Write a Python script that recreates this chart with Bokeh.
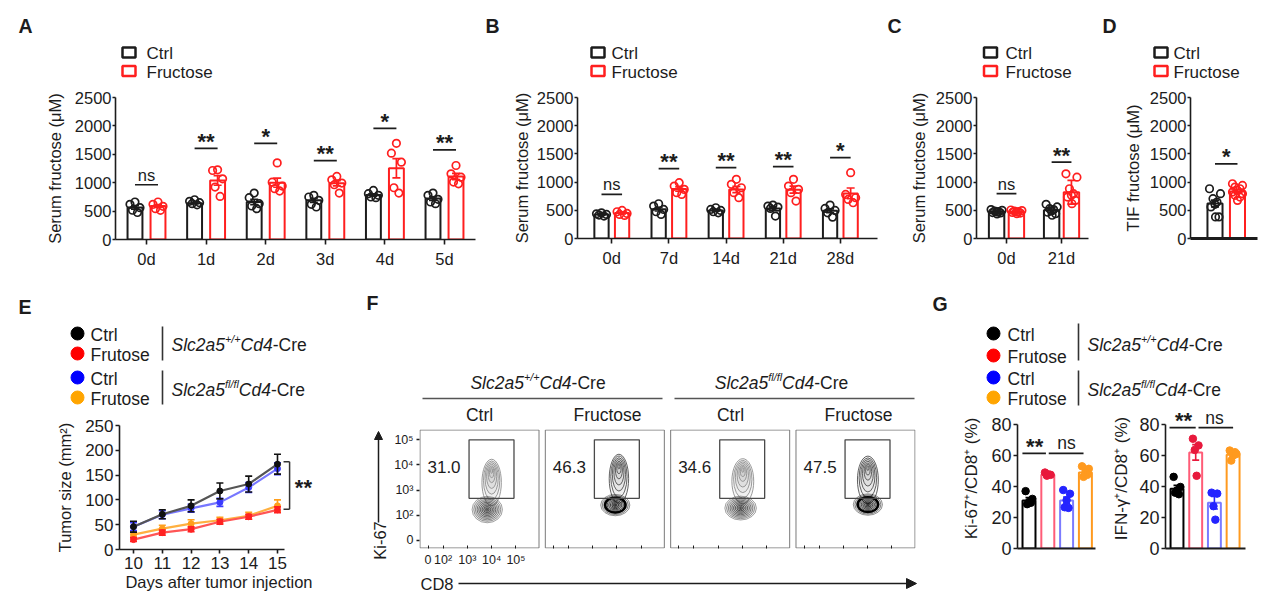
import numpy as np
from bokeh.plotting import figure
from bokeh.models import Range1d, Arrow, NormalHead
from bokeh.layouts import row, column
from bokeh.core.properties import value
from bokeh.embed import file_html
from bokeh.resources import INLINE

FONT = "Liberation Sans"
INK = "#1c1c1c"
RED = "#ff1f1f"

# ======================= DATA =======================
# ---- Panel A (serum fructose, days 0-5) ----
A_DAYS = ["0d", "1d", "2d", "3d", "4d", "5d"]
A_CTRL_PTS = [[660, 620, 560, 515, 475], [700, 672, 648, 631, 610], [818, 736, 631, 590, 543],
              [777, 748, 689, 619, 572], [864, 806, 777, 748, 736], [818, 777, 707, 660, 631]]
A_FRU_PTS = [[660, 619, 584, 543, 514], [1227, 1215, 1069, 923, 759], [1349, 1010, 940, 894, 853],
             [1110, 1051, 993, 964, 818], [1694, 1519, 1361, 911, 818], [1303, 1157, 1098, 1011, 981]]
A_CTRL_MEAN = [565, 640, 660, 690, 785, 720]
A_CTRL_SEM = [30, 15, 45, 35, 20, 30]
A_FRU_MEAN = [590, 1040, 1000, 990, 1255, 1110]
A_FRU_SEM = [25, 85, 80, 45, 170, 55]
A_SIG_Y = [964, 1606, 1694, 1390, 1957, 1577]
A_SIG = ["ns", "**", "*", "**", "*", "**"]

# ---- Panel B (serum fructose, days 0-28) ----
B_DAYS = ["0d", "7d", "14d", "21d", "28d"]
B_CTRL_PTS = [[456, 438, 427, 415, 397], [616, 575, 515, 474, 427], [545, 515, 498, 474, 456],
              [592, 575, 557, 533, 397], [592, 533, 498, 456, 379]]
B_FRU_PTS = [[498, 474, 444, 427, 409], [989, 930, 871, 812, 782], [1049, 960, 900, 812, 723],
             [1049, 930, 871, 812, 664], [1167, 782, 723, 693, 634]]
B_CTRL_MEAN = [427, 520, 498, 530, 492]
B_CTRL_SEM = [12, 32, 15, 35, 35]
B_FRU_MEAN = [450, 877, 869, 865, 800]
B_FRU_SEM = [15, 38, 56, 62, 95]
B_SIG_Y = [782, 1238, 1256, 1274, 1434]
B_SIG = ["ns", "**", "**", "**", "*"]

# ---- Panel C ----
C_DAYS = ["0d", "21d"]
C_CTRL_PTS = [[512, 500, 488, 476, 471, 459, 453, 435], [606, 559, 529, 512, 488, 465, 441, 412]]
C_FRU_PTS = [[505, 495, 488, 476, 470, 462, 450, 440], [1147, 1088, 882, 794, 765, 735, 676, 618]]
C_CTRL_MEAN = [475, 500]
C_CTRL_ERR = [25, 45]
C_FRU_MEAN = [470, 820]
C_FRU_ERR = [22, 210]
C_SIG_Y = [794, 1353]
C_SIG = ["ns", "**"]

# ---- Panel D (TIF fructose) ----
D_CAT = [""]
D_CTRL_PTS = [[882, 794, 706, 647, 606, 559, 382, 382]]
D_FRU_PTS = [[971, 941, 912, 882, 853, 824, 794, 765, 735, 676]]
D_CTRL_MEAN = [620]
D_CTRL_SEM = [60]
D_FRU_MEAN = [835]
D_FRU_SEM = [30]
D_SIG_Y = [1324]
D_SIG = ["*"]

# ---- Panel E (tumor growth) ----
E_DAYS = [10, 11, 12, 13, 14, 15]
E_WT_CTRL = [46, 71, 88, 118, 132, 172]
E_WT_CTRL_SEM = [11, 9, 12, 16, 16, 20]
E_WT_FRU = [20, 34, 41, 56, 66, 80]
E_WT_FRU_SEM = [4, 5, 5, 5, 5, 6]
E_KO_CTRL = [46, 70, 83, 95, 125, 163]
E_KO_CTRL_SEM = [8, 8, 8, 8, 10, 12]
E_KO_FRU = [30, 42, 52, 59, 68, 88]
E_KO_FRU_SEM = [5, 7, 8, 6, 7, 12]
E_SIG_Y = [177, 81]
E_SIG = "**"

# ---- Panel F (flow plots) ----
F_GROUPS = ["Ctrl", "Fructose", "Ctrl", "Fructose"]
F_PCT = ["31.0", "46.3", "34.6", "47.5"]
F_AX_LABELS = ["0", "10\u00b2", "10\u00b3", "10\u2074", "10\u2075"]
# contour blobs: (CD8 centre, Ki-67 centre, width, height) in decades
F_LOWER = [(3.82, 2.22, 1.25, 1.05), (3.93, 2.40, 1.20, 0.85), (3.93, 2.28, 1.30, 0.95), (4.01, 2.42, 1.20, 0.85)]
F_UPPER = [(4.00, 3.30, 0.80, 1.85), (4.08, 3.45, 0.80, 1.95), (4.02, 3.35, 0.90, 1.80), (4.01, 3.40, 0.86, 1.90)]
F_GATE = (3.07, 4.92, 2.67, 5.00)

# ---- Panel G ----
G_GROUPS = ["WT Ctrl", "WT Fructose", "KO Ctrl", "KO Fructose"]
G1_MEAN = [31, 47.5, 31, 49]
G1_SEM = [1.8, 0.6, 2.2, 1.4]
G1_PTS = [[37, 32, 30, 28.6, 29.5], [49, 47.5, 47, 47.8], [37.7, 35.3, 31.2, 26.6, 26.2], [53, 51.4, 49, 46.2, 47.5]]
G2_MEAN = [38.5, 62, 29.5, 60.5]
G2_SEM = [2.2, 5, 4, 1.8]
G2_PTS = [[46.2, 39.7, 37.5, 36, 35], [70.8, 66.5, 63.6, 46.9], [36, 35.4, 27.3, 18.6], [63.2, 61, 60, 56.7, 62.1]]
G1_SIG_Y = [61.3, 61.3]
G2_SIG_Y = [78, 78]
G_SIG = ["**", "ns"]

# ======================= STYLE HELPERS =======================
AW = {'S': 667, 'l': 222, 'c': 500, '2': 556, 'a': 556, '5': 556, '+': 584, '/': 278, 'f': 278,
      'C': 722, 'd': 556, '4': 556, '-': 333, 'r': 333, 'e': 556}


def tw(s, size):
    return sum(AW.get(ch, 556) for ch in s) * size / 1000.0


def new_fig(**kw):
    return figure(output_backend="svg", toolbar_location=None, outline_line_color=None,
                  frame_align=False, **kw)


def style_axis(ax, tick_size, label_size, tick_out=4, standoff=2, label_standoff=4, lw=1.6):
    ax.axis_line_color = INK
    ax.axis_line_width = lw
    ax.major_tick_line_color = INK
    ax.major_tick_line_width = lw
    ax.major_tick_in = 0
    ax.major_tick_out = tick_out
    ax.minor_tick_line_color = None
    ax.major_label_text_font = FONT
    ax.major_label_text_font_size = f"{tick_size}px"
    ax.major_label_text_color = INK
    ax.major_label_standoff = standoff
    ax.axis_label_text_font = FONT
    ax.axis_label_text_font_size = f"{label_size}px"
    ax.axis_label_text_font_style = "normal"
    ax.axis_label_text_color = INK
    ax.axis_label_standoff = label_standoff


def deco(w, h):
    return new_fig(width=w, height=h, x_range=Range1d(0, w), y_range=Range1d(h, 0),
                   x_axis_type=None, y_axis_type=None, min_border=0)


def dtext(p, org, x, y, s, size, style="normal", align="left", baseline="middle", angle=0.0, color=INK):
    p.text(x=[x - org[0]], y=[y - org[1]], text=[s], text_font=value(FONT),
           text_font_size=f"{size}px", text_font_style=style, text_align=align,
           text_baseline=baseline, text_color=color, angle=angle)


def dline(p, org, x0, y0, x1, y1, width=1.5, color=INK):
    p.segment(x0=[x0 - org[0]], y0=[y0 - org[1]], x1=[x1 - org[0]], y1=[y1 - org[1]],
              line_color=color, line_width=width)


def darrow(p, org, x0, y0, x1, y1, head=10):
    p.add_layout(Arrow(end=NormalHead(size=head, fill_color=INK, line_color=INK, line_width=1),
                       x_start=x0 - org[0], y_start=y0 - org[1], x_end=x1 - org[0], y_end=y1 - org[1],
                       line_color=INK, line_width=1.5))


def genotype(p, org, x, yc, sup, size=17.5, align="left"):
    sup_size = round(size * 0.62, 1)
    pieces = [("Slc2a5", "italic", size, 0.0), (sup, "italic", sup_size, -0.3 * size),
              ("Cd4", "italic", size, 0.0), ("-Cre", "normal", size, 0.0)]
    total = sum(tw(s, sz) for s, _, sz, _ in pieces)
    cur = x - total / 2 if align == "center" else x
    for s, st, sz, dy in pieces:
        dtext(p, org, cur, yc + dy, s, sz, style=st, baseline="middle")
        cur += tw(s, sz)


def sig_text(p, xs, ys, labels, ns_size=16.5, star_size=22):
    ns_i = [i for i, s in enumerate(labels) if s == "ns"]
    st_i = [i for i, s in enumerate(labels) if s != "ns"]
    if ns_i:
        p.text(x=[xs[i] for i in ns_i], y=[ys[i] for i in ns_i], text=["ns"] * len(ns_i), text_font=value(FONT),
               text_font_size=f"{ns_size}px", text_align="center", text_baseline="middle", y_offset=-10,
               text_color=INK)
    if st_i:
        p.text(x=[xs[i] for i in st_i], y=[ys[i] for i in st_i], text=[labels[i] for i in st_i],
               text_font=value(FONT), text_font_size=f"{star_size}px", text_font_style="bold",
               text_align="center", text_baseline="middle", y_offset=-7, text_color=INK)


JIT = {4: [-4, 4, -1.5, 1.5], 5: [0, -5, 5, -2.5, 2.5], 8: [-5.5, 5.5, -2, 2, 0, -4, 4, 0.5],
       10: [-5, 5, -2.5, 2.5, 0, -5, 5, -2.5, 2.5, 0]}


# ======================= BAR PANELS (A-D) =======================
def bar_panel(w, h, mb, xr, labels, cpts, fpts, cm, ce, fm, fe, sig_y, sig, off, bw, ppu,
              ylabel, lab_std, x_labels=True):
    p = new_fig(width=w, height=h, x_range=Range1d(*xr), y_range=Range1d(0, 2500),
                min_border_left=mb[0], min_border_right=mb[1], min_border_top=mb[2], min_border_bottom=mb[3])
    p.grid.visible = False
    xs = np.arange(len(labels), dtype=float)
    for pts, mean, err, col, sgn in ((cpts, cm, ce, INK, -1.0), (fpts, fm, fe, RED, 1.0)):
        xc = xs + sgn * off
        mean = np.asarray(mean, float)
        err = np.asarray(err, float)
        p.vbar(x=xc, top=mean, bottom=0, width=bw, fill_color="white", line_color=col, line_width=2)
        px = [xc[i] + JIT[len(g)][j] / ppu for i, g in enumerate(pts) for j in range(len(g))]
        py = [v for g in pts for v in g]
        p.scatter(px, py, marker="circle", size=7.5, fill_color=None, line_color=col, line_width=1.7)
        p.segment(x0=xc, x1=xc, y0=mean - err, y1=mean + err, line_color=col, line_width=1.7)
        p.scatter(np.concatenate([xc, xc]), np.concatenate([mean + err, mean - err]), marker="dash",
                  size=8, line_color=col, line_width=1.7)
    p.segment(x0=xs - off, x1=xs + off, y0=sig_y, y1=sig_y, line_color=INK, line_width=1.7)
    sig_text(p, list(xs), sig_y, sig)
    ya = p.yaxis[0]
    style_axis(ya, 16.5, 16.5, tick_out=3, standoff=1, label_standoff=lab_std)
    ya.ticker = [0, 500, 1000, 1500, 2000, 2500]
    ya.bounds = (0, 2500)
    ya.axis_label = ylabel
    xa = p.xaxis[0]
    if x_labels:
        style_axis(xa, 16.5, 16.5, tick_out=5, standoff=5)
        xa.ticker = list(range(len(labels)))
        xa.major_label_overrides = {i: lab for i, lab in enumerate(labels)}
    else:
        style_axis(xa, 16.5, 16.5, tick_out=0, standoff=5, lw=3)
        xa.ticker = []
    return p


def top_deco(w, org, letter, letter_x, sq_x, txt_x):
    p = deco(w, 77)
    dtext(p, org, letter_x, 25, letter, 19.5, style="bold")
    p.rect(x=[sq_x - org[0]] * 2, y=[52 - org[1], 70.5 - org[1]], width=13, height=10,
           fill_color="white", line_color=[INK, RED], line_width=2.5)
    dtext(p, org, txt_x, 53, "Ctrl", 17)
    dtext(p, org, txt_x, 72, "Fructose", 17)
    return p


YL = "Serum fructose (\u03bcM)"
dA = top_deco(472, (8, 8), "A", 18, 128.5, 146)
pA = bar_panel(472, 200, (107, 5, 12, 46), (-0.52, 5.52), A_DAYS, A_CTRL_PTS, A_FRU_PTS,
               A_CTRL_MEAN, A_CTRL_SEM, A_FRU_MEAN, A_FRU_SEM, A_SIG_Y, A_SIG, 0.193, 0.25, 59.6, YL, 8)
dB = top_deco(405, (480, 8), "B", 485, 597.5, 611)
pB = bar_panel(405, 200, (97, 8, 12, 47), (-0.6, 4.65), B_DAYS, B_CTRL_PTS, B_FRU_PTS,
               B_CTRL_MEAN, B_CTRL_SEM, B_FRU_MEAN, B_FRU_SEM, B_SIG_Y, B_SIG, 0.18, 0.25, 57.1, YL, 3)
dC = top_deco(213, (885, 8), "C", 887, 990, 1005)
pC = bar_panel(213, 200, (91, 10, 12, 47), (-0.545, 1.49), C_DAYS, C_CTRL_PTS, C_FRU_PTS,
               C_CTRL_MEAN, C_CTRL_ERR, C_FRU_MEAN, C_FRU_ERR, C_SIG_Y, C_SIG, 0.18, 0.28, 55.0, YL, 5)
dD = top_deco(174, (1098, 8), "D", 1102, 1160.5, 1173)
pD = bar_panel(174, 200, (92, 15, 12, 47), (-1.589, 1.39), D_CAT, D_CTRL_PTS, D_FRU_PTS,
               D_CTRL_MEAN, D_CTRL_SEM, D_FRU_MEAN, D_FRU_SEM, D_SIG_Y, D_SIG, 0.5, 0.67, 22.5,
               "TIF fructose (\u03bcM)", 5, x_labels=False)

# ======================= PANEL E =======================
E_COL = {"wc": "#111111", "wf": "#ff2222", "kc": "#3a3aff", "kf": "#ff9f1c"}
E_LINE = {"wc": "#555555", "wf": "#ff5555", "kc": "#7777ff", "kf": "#ffb040"}


def legend4(p, org, letter_xy, cx, ys, tx, sep_x, seps, gx, gys, size=17.5):
    dtext(p, org, letter_xy[0], letter_xy[1], letter_xy[2], 19.5, style="bold")
    cols = ["#000000", "#ff0000", "#0000ff", "#ffa500"]
    p.scatter(x=[cx - org[0]] * 4, y=[y - org[1] for y in ys], size=13, marker="circle",
              fill_color=cols, line_color=cols)
    for y, t in zip(ys, ["Ctrl", "Frutose", "Ctrl", "Frutose"]):
        dtext(p, org, tx, y + 1, t, size)
    for y0, y1 in seps:
        dline(p, org, sep_x, y0, sep_x, y1, width=1.6, color="#333333")
    genotype(p, org, gx, gys[0], "+/+", size)
    genotype(p, org, gx, gys[1], "fl/fl", size)


dE = deco(352, 122)
legend4(dE, (8, 285), (18, 306, "E"), 77, [333, 353, 377, 397], 90, 162, [(326, 360), (370, 404)], 171, [344, 389])

pE = new_fig(width=352, height=200, x_range=Range1d(9.514, 16.424), y_range=Range1d(0, 250),
             min_border_left=111, min_border_right=42, min_border_top=18, min_border_bottom=58)
pE.grid.visible = False
for key, m, e in (("kf", E_KO_FRU, E_KO_FRU_SEM), ("wf", E_WT_FRU, E_WT_FRU_SEM),
                  ("kc", E_KO_CTRL, E_KO_CTRL_SEM), ("wc", E_WT_CTRL, E_WT_CTRL_SEM)):
    m = np.asarray(m, float)
    e = np.asarray(e, float)
    pE.line(E_DAYS, m, line_color=E_LINE[key], line_width=2.2)
    pE.segment(x0=E_DAYS, x1=E_DAYS, y0=m - e, y1=m + e, line_color=E_COL[key], line_width=1.6)
    pE.scatter(E_DAYS + E_DAYS, np.concatenate([m + e, m - e]), marker="dash", size=7,
               line_color=E_COL[key], line_width=1.6)
    pE.scatter(E_DAYS, m, marker="circle", size=6, fill_color=E_COL[key], line_color=E_COL[key])
pE.segment(x0=[15.42, 15.21, 15.21], x1=[15.42, 15.42, 15.42], y0=[E_SIG_Y[1], E_SIG_Y[0], E_SIG_Y[1]],
           y1=[E_SIG_Y[0], E_SIG_Y[0], E_SIG_Y[1]], line_color="#333333", line_width=1.5)
pE.text(x=[15.9], y=[(E_SIG_Y[0] + E_SIG_Y[1]) / 2], text=[E_SIG], text_font=value(FONT), text_font_size="22px",
        text_font_style="bold", text_align="center", text_baseline="middle", y_offset=2, text_color=INK)
style_axis(pE.yaxis[0], 17, 16.5, tick_out=4, standoff=2, label_standoff=8)
pE.yaxis.ticker = [0, 50, 100, 150, 200, 250]
pE.yaxis.bounds = (0, 250)
pE.yaxis.axis_label = "Tumor size (mm\u00b2)"
style_axis(pE.xaxis[0], 17, 16.5, tick_out=4, standoff=3, label_standoff=1)
pE.xaxis.ticker = E_DAYS
pE.xaxis.bounds = (9.514, 15.24)
pE.xaxis.axis_label = "Days after tumor injection"

# ======================= PANEL F =======================
F_OFF = 5.16
F_BOX = (1.05, 5.95, 0.69, 5.39)
F_XT = [1.38, 2, 3, 4, 5]
F_YT = [1, 2, 3, 4, 5]
LOW_LEVELS = [1.0, 0.89, 0.78, 0.67, 0.56, 0.45, 0.34, 0.23, 0.12, 0.04]
UP_LEVELS = [1.0, 0.84, 0.68, 0.52, 0.36, 0.22, 0.1]

dFl = deco(28, 322)
oFl = (360, 285)
dtext(dFl, oFl, 366, 302, "F", 19.5, style="bold")
darrow(dFl, oFl, 378, 522, 378, 431, head=8)
dtext(dFl, oFl, 379, 540, "Ki-67", 16.5, align="center", angle=np.pi / 2)

dFt = deco(532, 140)
oFt = (388, 285)
genotype(dFt, oFt, 537.5, 382, "+/+", 17.5, align="center")
genotype(dFt, oFt, 781, 382, "fl/fl", 17.5, align="center")
dline(dFt, oFt, 422, 398, 662, 398, width=1.5, color="#555555")
dline(dFt, oFt, 674, 398, 914, 398, width=1.5, color="#555555")
for xg, g in zip([479, 607, 730, 858], F_GROUPS):
    dtext(dFt, oFt, xg, 414, g, 17.5, align="center")

pF = new_fig(width=532, height=148, x_range=Range1d(1.03, 21.45), y_range=Range1d(0.67, 5.41),
             min_border_left=31, min_border_right=5, min_border_top=4, min_border_bottom=25)
pF.grid.visible = False
offs = [k * F_OFF for k in range(len(F_PCT))]
pF.quad(left=[F_BOX[0] + o for o in offs], right=[F_BOX[1] + o for o in offs], bottom=F_BOX[2], top=F_BOX[3],
        fill_color=None, line_color="#7a7a7a", line_width=1)
dark = [False, True, False, True]
for k, o in enumerate(offs):
    cx, cy, w, h = F_UPPER[k]
    col = "#505050" if dark[k] else "#909090"
    pF.ellipse(x=[cx + o] * len(UP_LEVELS), y=[cy + h * 0.5 * (1 - s) * 0.55 for s in UP_LEVELS],
               width=[w * s for s in UP_LEVELS], height=[h * s for s in UP_LEVELS], fill_color="#000000",
               fill_alpha=0.03, line_color=col, line_alpha=0.9, line_width=1.0)
    cx, cy, w, h = F_LOWER[k]
    col = "#151515" if dark[k] else "#3a3a3a"
    pF.ellipse(x=[cx + o] * len(LOW_LEVELS), y=[cy] * len(LOW_LEVELS), width=[w * s for s in LOW_LEVELS],
               height=[h * s for s in LOW_LEVELS], fill_color="#000000", fill_alpha=0.045, line_color=col,
               line_alpha=[0.45 + 0.055 * i for i in range(len(LOW_LEVELS))], line_width=1.0)
    if dark[k]:
        pF.ellipse(x=[cx + o], y=[cy], width=[w * 0.7], height=[h * 0.7], fill_color=None,
                   line_color="#000000", line_width=2.4)
pF.quad(left=[F_GATE[0] + o for o in offs], right=[F_GATE[1] + o for o in offs], bottom=F_GATE[2],
        top=F_GATE[3], fill_color=None, line_color="#4a4a4a", line_width=1.3)
pF.text(x=[2.04 + o for o in offs], y=[3.9] * 4, text=F_PCT, text_font=value(FONT), text_font_size="17px",
        text_align="center", text_baseline="middle", text_color=INK)
ya = pF.yaxis[0]
style_axis(ya, 12.5, 12, tick_out=3, standoff=3)
ya.axis_line_color = None
ya.ticker = F_YT
ya.major_label_overrides = {t: l for t, l in zip(F_YT, F_AX_LABELS)}
xa = pF.xaxis[0]
style_axis(xa, 12.5, 12, tick_out=0, standoff=4)
xa.major_tick_in = 3
xa.major_tick_line_width = 1
xa.axis_line_color = None
xticks = [t + o for o in offs for t in F_XT]
xa.ticker = xticks
xa.major_label_overrides = {t + o: (l if o == 0 else "") for o in offs for t, l in zip(F_XT, F_AX_LABELS)}

dFb = deco(532, 34)
oFb = (388, 573)
dtext(dFb, oFb, 420, 583, "CD8", 16.5)
darrow(dFb, oFb, 458, 583, 916, 583, head=10)

# ======================= PANEL G =======================
G_BAR = ["#000000", "#ff5c77", "#7b7bff", "#ff9a1f"]
G_PT = ["#000000", "#e8193c", "#2424ff", "#ff9a1f"]
G_JIT = {4: [-0.15, 0.15, -0.05, 0.05], 5: [-0.18, 0.18, 0.0, -0.1, 0.1]}

dG = deco(352, 122)
legend4(dG, (920, 285), (932, 303.5, "G"), 993, [333, 355, 377, 397], 1007, 1078, [(323, 360), (370, 405)],
        1087, [344, 389])


def g_panel(w, mb, xr, mean, sem, pts, sig_y, spans, tx, ylabel, lab_std):
    p = new_fig(width=w, height=200, x_range=Range1d(*xr), y_range=Range1d(0, 90.3),
                min_border_left=mb[0], min_border_right=mb[1], min_border_top=mb[2], min_border_bottom=mb[3])
    p.grid.visible = False
    xs = np.arange(len(mean), dtype=float)
    mean = np.asarray(mean, float)
    sem = np.asarray(sem, float)
    p.vbar(x=xs, top=mean, bottom=0, width=0.69, fill_color="white", line_color=G_BAR, line_width=2)
    for i, g in enumerate(pts):
        p.scatter([xs[i] + G_JIT[len(g)][j] for j in range(len(g))], g, marker="circle", size=7.5,
                  fill_color=G_PT[i], line_color=G_PT[i])
    p.segment(x0=xs, x1=xs, y0=mean - sem, y1=mean + sem, line_color=G_PT, line_width=1.6)
    p.scatter(np.concatenate([xs, xs]), np.concatenate([mean + sem, mean - sem]), marker="dash", size=7,
              line_color=G_PT + G_PT, line_width=1.6)
    p.segment(x0=[s[0] for s in spans], x1=[s[1] for s in spans], y0=sig_y, y1=sig_y, line_color=INK, line_width=1.7)
    sig_text(p, tx, sig_y, G_SIG, ns_size=17.5, star_size=22)
    style_axis(p.yaxis[0], 18, 17, tick_out=4, standoff=2, label_standoff=lab_std)
    p.yaxis.ticker = [0, 20, 40, 60, 80]
    p.yaxis.bounds = (0, 80)
    p.yaxis.axis_label = ylabel
    style_axis(p.xaxis[0], 12, 12, tick_out=0, lw=2)
    p.xaxis.ticker = []
    return p


pG1 = g_panel(180, (97, 5, 1, 59), (-0.612, 3.537), G1_MEAN, G1_SEM, G1_PTS, G1_SIG_Y,
              [(-0.35, 0.9), (1.05, 2.9)], [0.3, 2.0], "Ki-67\u207a/CD8\u207a (%)", 7)
pG2 = g_panel(172, (65, 27, 1, 59), (-0.615, 3.663), G2_MEAN, G2_SEM, G2_PTS, G2_SIG_Y,
              [(-0.4, 1.0), (1.15, 3.0)], [0.35, 2.0], "IFN-\u03b3\u207a/CD8\u207a (%)", 5)

# ======================= LAYOUT =======================
top = row(column(dA, pA), column(dB, pB), column(dC, pC), column(dD, pD))
bottom = row(column(dE, pE), row(dFl, column(dFt, pF, dFb)), column(dG, row(pG1, pG2)))
root = column(top, bottom, margin=(8, 0, 0, 8))

open("out.html", "w").write(file_html(root, INLINE, title="Fructose figure"))
